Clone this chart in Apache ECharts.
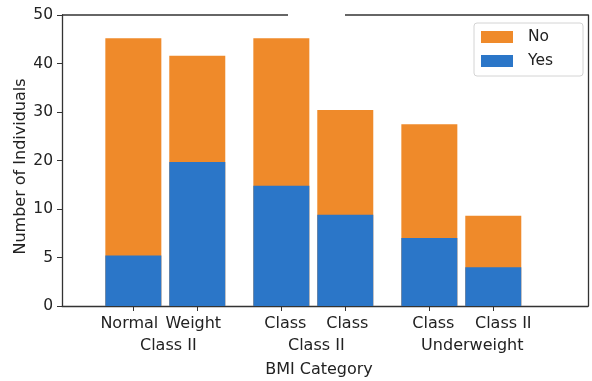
<!DOCTYPE html>
<html>
<head>
<meta charset="utf-8">
<script src="https://cdn.jsdelivr.net/npm/echarts@6/dist/echarts.min.js"></script>
<style>
  html, body { margin: 0; padding: 0; background: #fff; }
  #chart { width: 592px; height: 381px; }
</style>
</head>
<body>
<div id="chart"></div>
<script>
// First-line label under each bar, second-line label under each pair
const barLabels = ['Normal', 'Weight', 'Class', 'Class', 'Class', 'Class II'];
const groupLabels = ['Class II', 'Class II', 'Underweight'];

// Counts per bar
const yesCounts = [5.2, 19.7, 14.8, 9.4, 7.0, 4.0];
const noCounts  = [40.0, 21.9, 30.4, 21.0, 20.5, 5.3];

// Y tick labels, placed at evenly spaced ticks
const yTickLabels = [0, 5, 10, 20, 30, 40, 50];

const FONT = 'DejaVu Sans';
const TEXT = '#222';
const ORANGE = '#ef8a2a';
const BLUE = '#2b76c8';

// Piecewise-linear position of a count on the evenly spaced tick scale
function tickPos(v) {
  for (let i = 0; i < yTickLabels.length - 1; i++) {
    const a = yTickLabels[i], b = yTickLabels[i + 1];
    if (v <= b || i === yTickLabels.length - 2) {
      return i + (v - a) / (b - a);
    }
  }
  return 0;
}

// Bars sit in pairs around each group centre
const PAIR_OFFSET = 0.216;
const barX = barLabels.map((_, i) => Math.floor(i / 2) + (i % 2 === 0 ? -PAIR_OFFSET : PAIR_OFFSET));
const groupX = groupLabels.map((_, g) => g);
const X_MIN = -0.698, X_MAX = 2.856;
const TOP_GAP = [0.829, 1.214];

// Small horizontal nudges (px) for the tick texts
const BAR_LABEL_NUDGE = [-4, -4, 4, 2, 4, 10];
const GROUP_LABEL_NUDGE = [3, 3, 11];

function nearestIndex(arr, v) {
  let best = 0;
  arr.forEach((x, i) => { if (Math.abs(x - v) < Math.abs(arr[best] - v)) best = i; });
  return best;
}

function nudgeRich(prefix, nudges) {
  const rich = {};
  nudges.forEach((n, i) => {
    rich[prefix + i] = {
      fontFamily: FONT, fontSize: 16, color: TEXT,
      padding: n >= 0 ? [0, 0, 0, 2 * n] : [0, -2 * n, 0, 0]
    };
  });
  return rich;
}

// "No" sits on top of "Yes": the orange bar runs to the total, the blue one covers its base
const totalData = barX.map((x, i) => [x, tickPos(yesCounts[i] + noCounts[i])]);
const yesData = barX.map((x, i) => [x, tickPos(yesCounts[i])]);

const chart = echarts.init(document.getElementById('chart'), null, { renderer: 'canvas' });

const axisLineStyle = { color: '#333', width: 1.3 };

chart.setOption({
  animation: false,
  backgroundColor: '#fff',
  textStyle: { fontFamily: FONT },
  grid: { left: 62, right: 4, top: 15, bottom: 75, outerBoundsMode: 'none' },
  legend: {
    data: ['No', 'Yes'],
    orient: 'vertical',
    left: 474,
    top: 23,
    width: 110,
    padding: [5, 30, 6, 7],
    itemWidth: 32,
    itemHeight: 12,
    itemGap: 6,
    icon: 'rect',
    borderColor: '#d4d4d4',
    borderWidth: 1,
    borderRadius: 3,
    backgroundColor: '#fff',
    textStyle: { fontFamily: FONT, fontSize: 15.5, color: TEXT, lineHeight: 18, padding: [0, 0, 0, 10] }
  },
  xAxis: [
    {
      type: 'value',
      min: X_MIN,
      max: X_MAX,
      name: 'BMI Category',
      nameLocation: 'middle',
      nameGap: 56,
      nameTextStyle: { fontFamily: FONT, fontSize: 16, color: TEXT, padding: [0, 12, 0, 0] },
      axisLine: { show: true, onZero: false, lineStyle: axisLineStyle },
      axisTick: { show: true, customValues: barX, length: 5, lineStyle: { color: '#333', width: 1 } },
      axisLabel: {
        customValues: barX,
        margin: 10,
        fontFamily: FONT, fontSize: 16, color: TEXT,
        formatter: (v) => { const i = nearestIndex(barX, v); return '{b' + i + '|' + barLabels[i] + '}'; },
        rich: nudgeRich('b', BAR_LABEL_NUDGE)
      },
      splitLine: { show: false }
    },
    {
      type: 'value',
      min: X_MIN,
      max: X_MAX,
      position: 'bottom',
      offset: 0,
      axisLine: { show: false, onZero: false },
      axisTick: { show: false },
      axisLabel: {
        customValues: groupX,
        margin: 32,
        fontFamily: FONT, fontSize: 16, color: TEXT,
        formatter: (v) => { const i = nearestIndex(groupX, v); return '{g' + i + '|' + groupLabels[i] + '}'; },
        rich: nudgeRich('g', GROUP_LABEL_NUDGE)
      },
      splitLine: { show: false }
    }
  ],
  yAxis: [
    {
      type: 'value',
      min: 0,
      max: yTickLabels.length - 1,
      interval: 1,
      name: 'Number of Individuals',
      nameLocation: 'middle',
      nameGap: 33,
      nameMoveOverlap: false,
      nameTextStyle: { fontFamily: FONT, fontSize: 16, color: TEXT, padding: [0, 12, 0, 0] },
      axisLine: { show: true, onZero: false, lineStyle: axisLineStyle },
      axisTick: { show: true, length: 5, lineStyle: { color: '#333', width: 1 } },
      axisLabel: {
        margin: 9,
        fontFamily: FONT, fontSize: 15.5, color: TEXT,
        formatter: (v) => String(yTickLabels[Math.round(v)])
      },
      splitLine: { show: false }
    },
    {
      type: 'value',
      min: 0,
      max: yTickLabels.length - 1,
      position: 'right',
      axisLine: { show: true, onZero: false, lineStyle: axisLineStyle },
      axisTick: { show: false },
      axisLabel: { show: false },
      splitLine: { show: false }
    }
  ],
  series: [
    {
      name: 'No',
      type: 'bar',
      xAxisIndex: 0,
      yAxisIndex: 0,
      barWidth: 56,
      barGap: '-100%',
      itemStyle: { color: ORANGE },
      data: totalData
    },
    {
      name: 'Yes',
      type: 'bar',
      xAxisIndex: 0,
      yAxisIndex: 0,
      barWidth: 56,
      barGap: '-100%',
      itemStyle: { color: BLUE },
      data: yesData
    }
  ]
});

// Top frame line, drawn in two pieces with a break
const yTop = yTickLabels.length - 1;
const p0 = chart.convertToPixel({ xAxisIndex: 0, yAxisIndex: 0 }, [X_MIN, yTop]);
const p1 = chart.convertToPixel({ xAxisIndex: 0, yAxisIndex: 0 }, [TOP_GAP[0], yTop]);
const p2 = chart.convertToPixel({ xAxisIndex: 0, yAxisIndex: 0 }, [TOP_GAP[1], yTop]);
const p3 = chart.convertToPixel({ xAxisIndex: 0, yAxisIndex: 0 }, [X_MAX, yTop]);
chart.setOption({
  graphic: [
    { type: 'line', shape: { x1: p0[0], y1: p0[1], x2: p1[0], y2: p1[1] }, style: { stroke: '#333', lineWidth: 1.3 }, z: 10 },
    { type: 'line', shape: { x1: p2[0], y1: p2[1], x2: p3[0], y2: p3[1] }, style: { stroke: '#333', lineWidth: 1.3 }, z: 10 }
  ]
});
</script>
</body>
</html>
